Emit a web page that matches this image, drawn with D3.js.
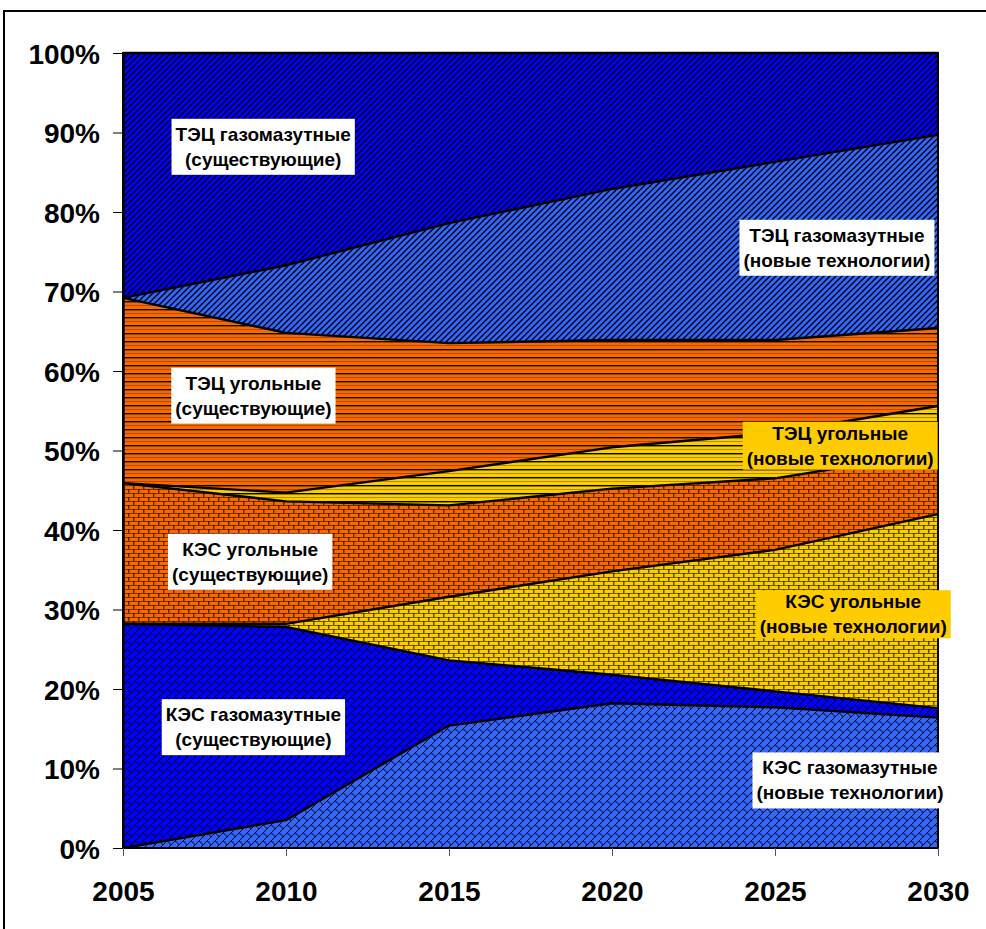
<!DOCTYPE html>
<html>
<head>
<meta charset="utf-8">
<script src="https://cdn.jsdelivr.net/npm/d3@7"></script>
<style>
    body { margin: 0; background: #fff; }
    svg { font-family: "Liberation Sans", Arial, sans-serif; }
</style>
</head>
<body>
<svg id="structure_chart"></svg>
<script>
// Years on the x axis
const years = [2005, 2010, 2015, 2020, 2025, 2030];

// Shares of each group, % (bottom to top)
const kesGasNew = [0, 3.5, 15.4, 18.2, 17.7, 16.4];
const kesGasOld = [28.2, 24.3, 8.2, 3.6, 2.0, 1.2];
const kesCoalNew = [0, 0.4, 8.0, 13.0, 17.8, 24.4];
const kesCoalOld = [17.7, 15.4, 11.5, 10.4, 9.0, 7.8];
const tecCoalNew = [0, 1.1, 4.3, 5.2, 5.7, 5.8];
const tecCoalOld = [23.3, 20.1, 16.1, 13.5, 11.7, 9.8];
const tecGasNew = [0, 8.5, 15.1, 19.0, 22.4, 24.3];
const tecGasOld = [30.8, 26.7, 21.4, 17.1, 13.7, 10.3];

const seriesKeys = ["kesGasNew", "kesGasOld", "kesCoalNew", "kesCoalOld",
                    "tecCoalNew", "tecCoalOld", "tecGasNew", "tecGasOld"];
const seriesValues = [kesGasNew, kesGasOld, kesCoalNew, kesCoalOld,
                      tecCoalNew, tecCoalOld, tecGasNew, tecGasOld];

// Label texts
const labelLines = [
    ["КЭС газомазутные", "(новые технологии)"],
    ["КЭС газомазутные", "(существующие)"],
    ["КЭС угольные", "(новые технологии)"],
    ["КЭС угольные", "(существующие)"],
    ["ТЭЦ угольные", "(новые технологии)"],
    ["ТЭЦ угольные", "(существующие)"],
    ["ТЭЦ газомазутные", "(новые технологии)"],
    ["ТЭЦ газомазутные", "(существующие)"]
];
// where the labels sit (year, percent)
const labelYear = [2027.3, 2009.0, 2027.4, 2008.9, 2027.0, 2009.0, 2026.9, 2009.3];
const labelPct = [8.5, 15.2, 29.4, 36.0, 50.6, 56.9, 75.5, 88.2];

const yTicks = [0, 10, 20, 30, 40, 50, 60, 70, 80, 90, 100];

// styles per series: base colour, hatch type, label box colour
const styles = [
    { color: "#3366ff", hatch: "shingle", box: "#ffffff" },
    { color: "#0000ff", hatch: "shingle", box: "#ffffff" },
    { color: "#ffcc00", hatch: "brick", box: "#ffcc00" },
    { color: "#ff6600", hatch: "brick", box: "#ffffff" },
    { color: "#ffcc00", hatch: "hline", box: "#ffcc00" },
    { color: "#ff6600", hatch: "hline", box: "#ffffff" },
    { color: "#3366ff", hatch: "diag", box: "#ffffff" },
    { color: "#0000ff", hatch: "diag", box: "#ffffff" }
];

const svgWidth = 986, svgHeight = 929;
const margin = { top: 53, right: 48, bottom: 81, left: 123 };
const width = svgWidth - margin.left - margin.right;
const height = svgHeight - margin.top - margin.bottom;

const root = d3.select("#structure_chart")
    .attr("width", svgWidth)
    .attr("height", svgHeight);

// outer frame (runs off the picture on the right and bottom)
root.append("rect")
    .attr("x", 4).attr("y", 11)
    .attr("width", 1000).attr("height", 1000)
    .attr("fill", "none")
    .attr("stroke", "#000")
    .attr("stroke-width", 2);

// hatch patterns
const defs = root.append("defs");

function addPattern(id, color, hatch) {
    let p;
    if (hatch === "diag") {
        p = defs.append("pattern").attr("id", id)
            .attr("patternUnits", "userSpaceOnUse")
            .attr("width", 6).attr("height", 6);
        p.append("rect").attr("width", 6).attr("height", 6).attr("fill", color);
        p.append("path")
            .attr("d", "M-1,7 L7,-1 M-4,4 L4,-4 M2,10 L10,2")
            .attr("stroke", "#000").attr("stroke-width", 1.4);
    } else if (hatch === "hline") {
        p = defs.append("pattern").attr("id", id)
            .attr("patternUnits", "userSpaceOnUse")
            .attr("width", 8).attr("height", 8);
        p.append("rect").attr("width", 8).attr("height", 8).attr("fill", color);
        p.append("rect").attr("y", 0).attr("width", 8).attr("height", 1.4).attr("fill", "#000");
        p.append("rect").attr("y", 4).attr("width", 8).attr("height", 1).attr("fill", "rgba(0,0,0,0.3)");
    } else if (hatch === "brick") {
        p = defs.append("pattern").attr("id", id)
            .attr("patternUnits", "userSpaceOnUse")
            .attr("width", 10).attr("height", 8);
        p.append("rect").attr("width", 10).attr("height", 8).attr("fill", color);
        p.append("rect").attr("y", 0).attr("width", 10).attr("height", 1).attr("fill", "rgba(0,0,0,0.55)");
        p.append("rect").attr("y", 4).attr("width", 10).attr("height", 1).attr("fill", "rgba(0,0,0,0.55)");
        p.append("rect").attr("x", 0).attr("y", 0).attr("width", 1.5).attr("height", 4).attr("fill", "rgba(0,0,0,0.6)");
        p.append("rect").attr("x", 5).attr("y", 4).attr("width", 1.5).attr("height", 4).attr("fill", "rgba(0,0,0,0.6)");
    } else {
        // shingle / diagonal brick
        p = defs.append("pattern").attr("id", id)
            .attr("patternUnits", "userSpaceOnUse")
            .attr("width", 8).attr("height", 8);
        p.append("rect").attr("width", 8).attr("height", 8).attr("fill", color);
        p.append("path")
            .attr("d", "M-1,9 L9,-1 M-1,1 L1,-1 M7,9 L9,7 M4,4 Q6,4.5 8,8")
            .attr("fill", "none")
            .attr("stroke", "#000").attr("stroke-width", 0.9);
    }
}
styles.forEach((s, i) => addPattern("pat" + i, s.color, s.hatch));

const svg = root.append("g")
    .attr("transform", `translate(${margin.left}, ${margin.top})`);

// scales
const xScale = d3.scaleLinear().domain([2005, 2030]).range([0, width]);
const yScale = d3.scaleLinear().domain([0, 100]).range([height, 0]);

// build rows for the stack
const table = years.map((yr, j) => {
    const row = { year: yr };
    seriesKeys.forEach((k, i) => { row[k] = seriesValues[i][j]; });
    return row;
});
const stacked = d3.stack().keys(seriesKeys)(table);

const area = d3.area()
    .x(d => xScale(d.data.year))
    .y0(d => yScale(d[0]))
    .y1(d => yScale(d[1]));

const topLine = d3.line()
    .x(d => xScale(d.data.year))
    .y(d => yScale(d[1]));

svg.selectAll(".layer")
    .data(stacked)
    .join("path")
    .attr("class", "layer")
    .attr("d", area)
    .attr("fill", (d, i) => `url(#pat${i})`);

svg.selectAll(".edge")
    .data(stacked)
    .join("path")
    .attr("class", "edge")
    .attr("d", topLine)
    .attr("fill", "none")
    .attr("stroke", "#000")
    .attr("stroke-width", 2.4)
    .attr("stroke-linejoin", "round");

// plot frame
svg.append("rect")
    .attr("width", width).attr("height", height)
    .attr("fill", "none")
    .attr("stroke", "#000")
    .attr("stroke-width", 2);

// Y axis
const yAxis = svg.append("g")
    .call(d3.axisLeft(yScale).tickValues(yTicks).tickSize(10).tickSizeOuter(0)
        .tickFormat(d => d + "%"));
yAxis.select(".domain").attr("stroke-width", 2.5);
yAxis.selectAll(".tick line").attr("stroke", "#000");
yAxis.selectAll("text")
    .attr("x", -23)
    .attr("dy", "0.36em")
    .style("font-size", "28px")
    .style("font-weight", "bold")
    .style("fill", "#000");

// X axis
const xAxis = svg.append("g")
    .attr("transform", `translate(0, ${height})`)
    .call(d3.axisBottom(xScale).tickValues(years).tickSize(8).tickSizeOuter(0)
        .tickFormat(d3.format("d")));
xAxis.select(".domain").remove();
xAxis.selectAll(".tick line").attr("stroke", "#555");
xAxis.selectAll("text")
    .attr("y", 53)
    .attr("dy", 0)
    .style("font-size", "28px")
    .style("font-weight", "bold")
    .style("fill", "#000");

// Labels with boxes
labelLines.forEach((lines, i) => {
    const cx = xScale(labelYear[i]);
    const cy = yScale(labelPct[i]);
    const g = svg.append("g").attr("class", "series-label");
    const box = g.append("rect");
    const txt = g.append("text")
        .attr("text-anchor", "middle")
        .style("font-size", "19px")
        .style("font-weight", "bold")
        .style("fill", "#000");
    txt.selectAll("tspan")
        .data(lines)
        .join("tspan")
        .attr("x", cx)
        .attr("y", (d, k) => cy - 6 + k * 25)
        .text(d => d);
    const bb = txt.node().getBBox();
    const padY = styles[i].box === "#ffffff" ? 5 : 1;
    box.attr("x", bb.x - 4)
        .attr("y", bb.y - padY)
        .attr("width", bb.width + 8)
        .attr("height", bb.height + padY * 2)
        .attr("fill", styles[i].box);
});
</script>
</body>
</html>
